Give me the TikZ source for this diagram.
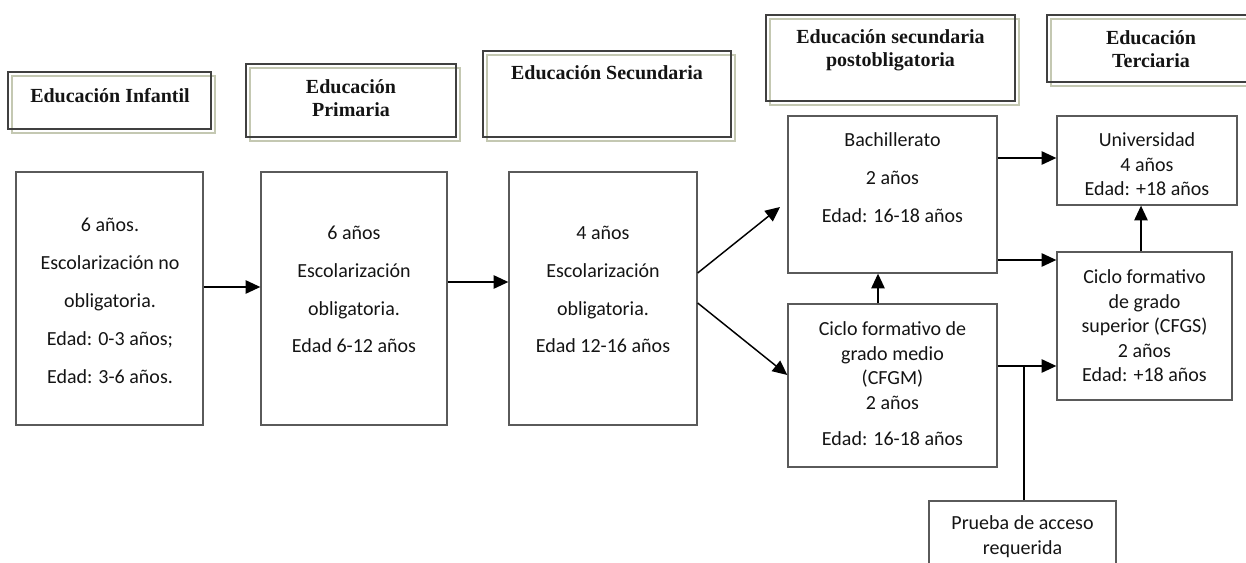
\documentclass[tikz,border=0pt]{standalone}
\usepackage{fontspec}
\setmainfont{Liberation Serif}
\newfontfamily\bodyf{Carlito}
\usetikzlibrary{arrows.meta,fit}
\definecolor{boxgray}{HTML}{5A5A5A}
\definecolor{hdark}{HTML}{404040}
\definecolor{hlight}{HTML}{C4C8B2}
\definecolor{ink}{HTML}{141414}
\begin{document}
\begin{tikzpicture}[x=0.75pt,y=-0.75pt,
  box/.style={draw=boxgray, line width=1pt, inner sep=0pt},
  hbox/.style={inner sep=0pt},
  hdarkline/.style={draw=hdark, line width=1.4pt},
  hlightline/.style={draw=hlight, line width=1.4pt},
  txt/.style={font=\bodyf\fontsize{15}{18.4}\selectfont, align=center, text=ink, inner sep=0pt},
  htxt/.style={font=\bfseries\fontsize{15}{17.3}\selectfont, align=center, text=ink, inner sep=0pt},
  arr/.style={line width=1.1pt, -{Triangle[length=11pt,width=10pt]}},
  plainline/.style={line width=1.1pt},
]
\useasboundingbox (0,0) rectangle (1246,563);
\clip (0,0) rectangle (1246,563);

% ---------- header boxes ----------
\node[hbox, fit={(8,72) (211,129)}] (h1) {};
\node[hbox, fit={(246,64) (456,137)}] (h2) {};
\node[hbox, fit={(483,51) (731,137)}] (h3) {};
\node[hbox, fit={(766,15) (1015,101)}] (h4) {};
\node[hbox, fit={(1047,15) (1255,82)}] (h5) {};
\foreach \h in {h1,h2,h3,h4,h5}{
  \draw[hlightline] ([shift={(4,4)}]\h.north west) rectangle ([shift={(4,4)}]\h.south east);
  \draw[hdarkline] (\h.north west) rectangle (\h.south east);
}
\node[htxt] (h1t) at (110,96) {Educación Infantil};
\node[htxt] (h2t) at (351,98.5) {Educación\\Primaria};
\node[htxt] (h3t) at (607,73) {Educación Secundaria};
\node[htxt] (h4t) at (890.5,50) {Educación secundaria\\postobligatoria};
\node[htxt] (h5t) at (1151,49) {Educación\\Terciaria};

% ---------- main boxes ----------
\node[box, fit={(16,172) (203,425)}] (b1) {};
\node[box, fit={(261,172) (447,425)}] (b2) {};
\node[box, fit={(509,172) (697,425)}] (b3) {};
\node[box, fit={(788,116) (997,273)}] (bach) {};
\node[box, fit={(788,304) (997,467)}] (cfgm) {};
\node[box, fit={(1057,116) (1237,205)}] (univ) {};
\node[box, fit={(1057,252) (1232,400)}] (cfgs) {};
\node[box, fit={(929,501) (1116,590)}] (prueba) {};

\node[txt] (t1) at (110,301) {6 años.\\[10pt]Escolarización no\\[10pt]obligatoria.\\[10pt]Edad: 0-3 años;\\[10pt] Edad: 3-6 años.};
\node[txt] (t2) at (354,289.5) {6 años\\[10pt]Escolarización\\[10pt]obligatoria.\\[10pt]Edad 6-12 años};
\node[txt] (t3) at (603,289.5) {4 años\\[10pt]Escolarización\\[10pt]obligatoria.\\[10pt]Edad 12-16 años};
\node[txt] (tbach) at (892.5,177.5) {Bachillerato\\[10pt]2 años\\[10pt]Edad: 16-18 años};
\node[txt] (tcfgm) at (892.5,384) {Ciclo formativo de\\grado medio\\(CFGM)\\2 años\\[9pt]Edad: 16-18 años};
\node[txt] (tuniv) at (1147,164.5) {Universidad\\4 años\\Edad: +18 años};
\node[txt] (tcfgs) at (1144.5,326) {Ciclo formativo\\de grado\\superior (CFGS)\\2 años\\Edad: +18 años};
\node[txt] (tprueba) at (1022.5,536.5) {Prueba de acceso\\requerida};

% ---------- connectors ----------
\coordinate (bachin) at (780,207);
\coordinate (jn) at (1024,366);
\draw[arr] (b1.east |- 0,287) -- (b2.west |- 0,287);
\draw[arr] (b2.east |- 0,282) -- (b3.west |- 0,282);
\draw[arr] (b3.east |- 0,273) -- (bachin);
\draw[arr] (b3.east |- 0,303) -- (cfgm.west |- 0,375);
\draw[arr] (bach.east |- 0,158) -- (univ.west |- 0,158);
\draw[arr] (bach.east |- 0,260) -- (cfgs.west |- 0,260);
\draw[arr] (cfgs.north -| 1141,0) -- (univ.south -| 1141,0);
\draw[arr] (cfgm.north -| 878,0) -- (bach.south -| 878,0);
\draw[arr] (cfgm.east |- 0,366) -- (cfgs.west |- 0,366);
\draw[plainline] (prueba.north -| jn) -- (jn);
\end{tikzpicture}
\end{document}
